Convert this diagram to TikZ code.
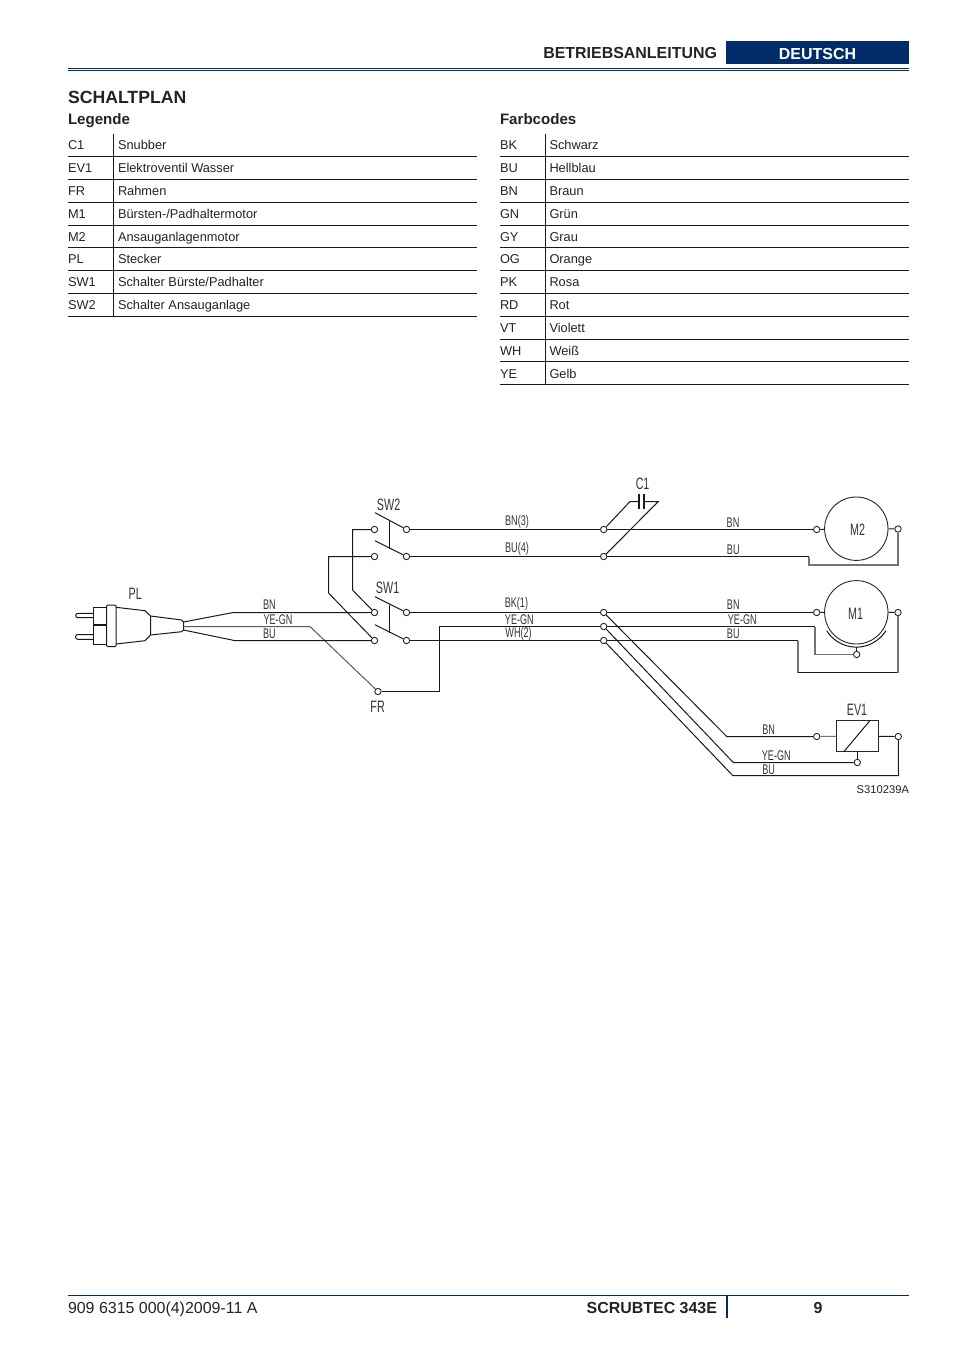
\documentclass[tikz,border=0pt]{standalone}
\usepackage{fontspec}
\setmainfont{Liberation Sans}
\definecolor{navy}{RGB}{0,45,105}
\definecolor{ink}{RGB}{35,35,35}
\newcommand{\cadtext}[1]{\scalebox{0.65}[1]{#1}}
\begin{document}
\begin{tikzpicture}[x=1pt,y=-1pt]
	\tikzstyle{plain} = [inner sep=0,outer sep=0,text=ink]
	\tikzstyle{cell} = [plain,anchor=base west,font=\fontsize{12.8}{15}\selectfont]
	\tikzstyle{head} = [plain,font=\bfseries\fontsize{15.95}{18}\selectfont]
	\tikzstyle{subhead} = [plain,anchor=base west,font=\bfseries\fontsize{15.1}{17}\selectfont]
	\tikzstyle{rowline} = [draw=black!90,line width=0.9pt]
	\tikzstyle{navyline} = [draw=navy,line width=1pt]
	\tikzstyle{wire} = [draw=black!90,line width=1pt]
	\tikzstyle{return} = [draw=black!55,line width=1.3pt]
	\tikzstyle{terminal} = [shape=circle,draw=black!85,line width=0.9pt,inner sep=0,minimum size=6.4pt]
	\tikzstyle{cad} = [plain,text=black!80,font=\fontsize{14}{16}\selectfont]
	\tikzstyle{cadbig} = [plain,text=black!80,font=\fontsize{16.5}{18}\selectfont]
	\useasboundingbox (0,0) rectangle (954,1350);

	% header
	\fill [navy] (726,41) rectangle (909,64);
	\node [head,anchor=base east] (manual) at (717,58) {BETRIEBSANLEITUNG};
	\node [head,anchor=base,text=white] (language) at (817.5,59) {DEUTSCH};
	\draw [navyline,line width=1.2pt] (68,68.6) -- (909,68.6);
	\draw [navyline,line width=0.7pt] (68,70.6) -- (909,70.6);

	\node [plain,anchor=base west,font=\bfseries\fontsize{17.65}{20}\selectfont] (title) at (68,103) {SCHALTPLAN};
	\node [subhead] (legend) at (68,124) {Legende};
	\node [subhead] (colours) at (500,124) {Farbcodes};

	\foreach \c/\t [count=\i from 0] in {C1/Snubber,EV1/Elektroventil Wasser,FR/Rahmen,M1/{Bürsten-/Padhaltermotor},M2/Ansauganlagenmotor,PL/Stecker,SW1/{Schalter Bürste/Padhalter},SW2/Schalter Ansauganlage}
	{
		\node [cell] (legcode\i) at (68,149.8+22.82*\i) {\c};
		\node [cell] (legtext\i) at (118,149.8+22.82*\i) {\t};
		\draw [rowline] (68,156.5+22.82*\i) -- (477,156.5+22.82*\i);
	}
	\draw [rowline] (113.5,134) -- (113.5,316.5);

	\foreach \c/\t [count=\i from 0] in {BK/Schwarz,BU/Hellblau,BN/Braun,GN/Grün,GY/Grau,OG/Orange,PK/Rosa,RD/Rot,VT/Violett,WH/Weiß,YE/Gelb}
	{
		\node [cell] (colcode\i) at (500,149.8+22.82*\i) {\c};
		\node [cell] (coltext\i) at (549.5,149.8+22.82*\i) {\t};
		\draw [rowline] (500,156.5+22.82*\i) -- (909,156.5+22.82*\i);
	}
	\draw [rowline] (545.5,134) -- (545.5,385);

	% plug
	\draw [wire] (93.3,613.3) -- (77.9,613.3) arc (270:90:2.2) -- (93.3,617.7);
	\draw [wire] (93.3,634.5) -- (77.9,634.5) arc (270:90:2.4) -- (93.3,639.3);
	\draw [wire,line width=1.5pt] (106.7,607.3) -- (93.3,607.3) -- (93.3,644.3) -- (106.7,644.3);
	\draw [wire,line width=1.2pt] (93.3,625) -- (106.7,625);
	\draw [wire,rounded corners=1pt] (106.7,605) rectangle (116,646.7);
	\draw [wire] (116,607.3) -- (145,610.7) -- (150.5,616) -- (150.5,635) -- (145,640.7) -- (116,644);
	\draw [wire] (150.5,616) -- (181.7,620) -- (183.5,622) -- (183.5,630) -- (181.7,631.7) -- (150.5,635);
	\coordinate (plugbn) at (183.5,622);
	\coordinate (pluggn) at (183.5,626.5);
	\coordinate (plugbu) at (183.5,630);

	% terminals
	\foreach \n/\x/\y in {swtwoa/374.5/529.5,swtwob/374.5/556.5,swtwoc/406.5/529.5,swtwod/406.5/556.5,
		swonea/374.5/612.5,swoneb/374.5/640.5,swonec/406.5/612.5,swoned/406.5/640.5,frame/378/691.5,
		jointa/603.7/529.5,jointb/603.7/556.5,jointc/603.7/612.5,jointd/603.7/626.5,jointe/603.7/640.5,
		mtwoa/816.7/529.5,mtwob/898/529,monea/816.7/612.5,moneb/898/612.5,monec/856.7/654.5,
		eva/816.7/736.5,evb/898.3/736.5,evc/857.3/762.5}
	{
		\node [terminal] (\n) at (\x,\y) {};
	}

	% switches
	\foreach \a/\b/\y in {swtwoc/swtwod/512.7,swonec/swoned/596.7}
	{
		\draw [wire] (375,\y) -- (\a);
		\draw [wire] (375,\y+28) -- (\b);
		\draw [wire] (389.5,\y+8) -- (389.5,\y+36);
	}

	% wires
	\draw [wire] (plugbn) -- (233.3,612.5) -- (swonea);
	\draw [wire,draw=black!65] (pluggn) -- (310,626.5) -- (frame);
	\draw [wire] (plugbu) -- (234.3,640.5) -- (swoneb);
	\draw [wire] (swtwoa) -- (352.5,529.5) -- (352.5,590) -- (swonea);
	\draw [wire] (swtwob) -- (328.5,556.5) -- (328.5,593) -- (swoneb);
	\draw [wire] (frame) -- (439.5,691.5) -- (439.5,626.5) -- (jointd);
	\draw [wire] (swtwoc) -- (jointa);
	\draw [wire] (swtwod) -- (jointb);
	\draw [wire] (swonec) -- (jointc);
	\draw [wire] (swoned) -- (jointe);

	% capacitor
	\coordinate (platea) at (639,501.5);
	\coordinate (plateb) at (644,501.5);
	\draw [wire] (jointa) -- (630,501.5) -- (platea);
	\draw [wire] (jointb) -- (658.3,501.5) -- (plateb);
	\draw [wire,line width=1.2pt] (639,494) -- (639,509.3);
	\draw [wire,line width=1.2pt] (644,494) -- (644,509.3);

	% motors
	\node [shape=circle,draw=black!85,line width=0.9pt,minimum size=63.4pt,inner sep=0] (mtwo) at (856.3,528.7) {};
	\node [shape=circle,draw=black!85,line width=0.9pt,minimum size=63.4pt,inner sep=0] (mone) at (856.3,612.3) {};
	\draw [wire] (jointa) -- (mtwoa);
	\draw [wire] (mtwoa) -- (mtwo);
	\draw [wire] (mtwo) -- (mtwob);
	\draw [wire] (jointb) -- (809,556.5);
	\draw [return] (809,556.5) -- (809,565) -- (898,565) -- (mtwob);
	\draw [wire] (jointc) -- (monea);
	\draw [wire] (monea) -- (mone);
	\draw [wire] (mone) -- (moneb);
	\draw [wire] (jointd) -- (815,626.5);
	\draw [return] (815,626.5) -- (815,654.5) -- (monec);
	\draw [wire] (jointe) -- (798,640.5);
	\draw [return] (798,640.5) -- (798,672.5);
	\draw [wire] (798,672.5) -- (898,672.5);
	\draw [return] (898,672.5) -- (moneb);
	\draw [wire] (826.7,630.7) arc (148:32:34.9);
	\draw [wire] (856.7,646.9) -- (monec);

	% valve
	\node [plain,draw=black!85,line width=1pt,minimum width=42pt,minimum height=31pt,anchor=center] (valve) at (857.5,736) {};
	\coordinate (valvelow) at (844,751.5);
	\coordinate (valvehigh) at (870,720.5);
	\draw [wire] (valvelow) -- (valvehigh);
	\draw [wire] (jointc) -- (726.7,736.5) -- (eva);
	\draw [return,line width=1pt] (eva) -- (valve);
	\draw [wire] (valve) -- (evb);
	\draw [wire] (jointd) -- (733.3,762.5) -- (evc);
	\draw [wire] (evc) -- (857.3,751.5);
	\draw [wire] (jointe) -- (732.7,775.5) -- (898.5,775.5) -- (evb);

	% labels of the diagram
	\foreach \n/\t/\x/\y in {pllabel/PL/135.3/594,swtwolabel/SW2/388.6/504.5,swonelabel/SW1/387.6/588,frlabel/FR/377.6/706.5,
		clabel/C1/642.6/483.8,mtwolabel/M2/857.6/529.3,monelabel/M1/855.6/613.6,evlabel/EV1/857/709.6}
	{
		\node [cadbig] (\n) at (\x,\y) {\cadtext{\t}};
	}
	\foreach \n/\t/\x/\y in {wa/BN/269.4/604.7,wb/YE-GN/278/620,wc/BU/269.4/633.3,
		wd/BN(3)/517/521.7,we/BU(4)/517/549,wf/BK(1)/516.4/604,wg/YE-GN/519.4/619.3,wh/WH(2)/518.6/633.7,
		wi/BN/733/522.7,wj/BU/733.3/549.7,wk/BN/733.3/604.3,wl/YE-GN/742.3/619.7,wm/BU/733.3/634,
		wn/BN/768.6/730,wo/YE-GN/776.3/755.3,wp/BU/768.6/769.3}
	{
		\node [cad] (\n) at (\x,\y) {\cadtext{\t}};
	}
	\node [plain,anchor=base east,font=\fontsize{11.2}{13}\selectfont] (drawingno) at (909,793) {S310239A};

	% footer
	\draw [navyline] (68,1295.5) -- (909,1295.5);
	\draw [navyline,line width=2pt] (727,1296) -- (727,1318);
	\node [plain,anchor=base west,font=\fontsize{15.95}{18}\selectfont] (docno) at (68,1313) {909 6315 000(4)2009-11 A};
	\node [head,anchor=base east] (product) at (717,1313) {SCRUBTEC 343E};
	\node [head,anchor=base] (pageno) at (818,1313) {9};
\end{tikzpicture}
\end{document}
